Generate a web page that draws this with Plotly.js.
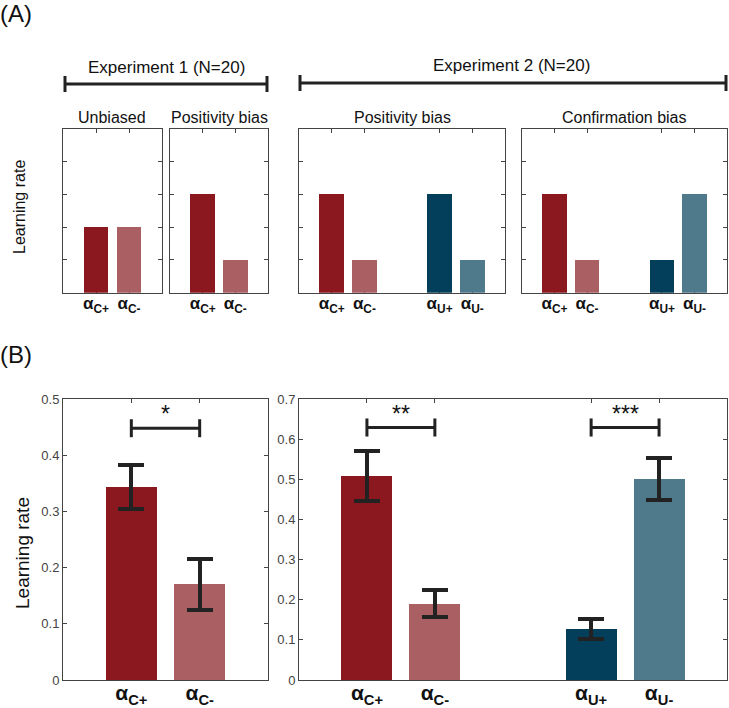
<!DOCTYPE html>
<html>
<head>
<meta charset="utf-8">
<script src="https://cdn.plot.ly/plotly-3.0.1.min.js"></script>
<style>
html,body{margin:0;padding:0;background:#fff;}
#chart{width:729px;height:708px;}
</style>
</head>
<body>
<div id="chart"></div>
<script>
// ---------- DATA ----------
const labelsExp1 = ['<b>α<sub>C+</sub></b>', '<b>α<sub>C-</sub></b>'];
const labelsExp2 = ['<b>α<sub>C+</sub></b>', '<b>α<sub>C-</sub></b>', '<b>α<sub>U+</sub></b>', '<b>α<sub>U-</sub></b>'];
const posExp1 = [1, 2];
const posExp2 = [1, 2, 4.3, 5.3];

// Panel A: schematic hypotheses (arbitrary units)
const schemUnbiased = [2, 2];
const schemPositivity1 = [3, 1];
const schemPositivity2 = [3, 1, 3, 1];
const schemConfirmation = [3, 1, 1, 3];

// Panel B: fitted learning rates (mean, s.e.m.)
const exp1Mean = [0.343, 0.170];
const exp1Sem = [0.039, 0.045];
const exp2Mean = [0.509, 0.190, 0.126, 0.501];
const exp2Sem = [0.062, 0.033, 0.025, 0.053];

// Significance brackets
const sigExp1Pairs = [[1, 2]];
const sigExp1Levels = [0.448];
const sigExp1Labels = ['*'];
const sigExp2Pairs = [[1, 2], [4.3, 5.3]];
const sigExp2Levels = [0.629, 0.629];
const sigExp2Labels = ['**', '***'];

// ---------- STYLE ----------
const colors1 = ['#8a181e', '#aa5f63'];
const colors2 = ['#8a181e', '#aa5f63', '#033f5a', '#4e7a8c'];
const W = 729, H = 708;
const FONT = 'Liberation Sans, Arial, Helvetica, sans-serif';
const px = v => v / W;
const py = v => 1 - v / H;

function barTrace(xa, ya, x, y, colors, err) {
  const t = {
    type: 'bar', x: x, y: y, width: 0.75,
    marker: {color: colors, line: {width: 0}},
    xaxis: xa, yaxis: ya, showlegend: false, hoverinfo: 'skip'
  };
  if (err) {
    t.error_y = {type: 'data', array: err, visible: true, color: '#222222', thickness: 4, width: 13};
  }
  return t;
}

function bracketTrace(xa, ya, pairs, levels, h) {
  const xs = [], ys = [];
  pairs.forEach((p, i) => {
    const yv = levels[i];
    xs.push(p[0], p[0], null, p[0], p[1], null, p[1], p[1], null);
    ys.push(yv - h, yv + h, null, yv, yv, null, yv - h, yv + h, null);
  });
  return {type: 'scatter', mode: 'lines', x: xs, y: ys, xaxis: xa, yaxis: ya,
    line: {color: '#222222', width: 3}, showlegend: false, hoverinfo: 'skip', cliponaxis: false};
}

const data = [
  barTrace('x', 'y', posExp1, schemUnbiased, colors1),
  barTrace('x2', 'y2', posExp1, schemPositivity1, colors1),
  barTrace('x3', 'y3', posExp2, schemPositivity2, colors2),
  barTrace('x4', 'y4', posExp2, schemConfirmation, colors2),
  barTrace('x5', 'y5', posExp1, exp1Mean, colors1, exp1Sem),
  barTrace('x6', 'y6', posExp2, exp2Mean, colors2, exp2Sem),
  bracketTrace('x5', 'y5', sigExp1Pairs, sigExp1Levels, 0.016),
  bracketTrace('x6', 'y6', sigExp2Pairs, sigExp2Levels, 0.0225)
];

function xAxis(dom, range, vals, text, anchor, size, standoff) {
  return {
    domain: [px(dom[0]), px(dom[1])], range: range, anchor: anchor,
    tickmode: 'array', tickvals: vals, ticktext: text,
    ticks: 'inside', ticklen: 4, tickcolor: '#444', tickwidth: 1,
    showline: true, linecolor: '#444', linewidth: 1, mirror: 'ticks',
    showgrid: false, zeroline: false, layer: 'below traces', fixedrange: true,
    ticklabelstandoff: standoff,
    tickfont: {family: FONT, size: size, color: '#111'}
  };
}
function yAxis(dom, range, anchor, labels, dtick) {
  return {
    domain: [py(dom[1]), py(dom[0])], range: range, anchor: anchor,
    tickmode: 'linear', tick0: 0, dtick: dtick,
    ticks: 'inside', ticklen: 4, tickcolor: '#444', tickwidth: 1,
    showline: true, linecolor: '#444', linewidth: 1, mirror: 'ticks',
    showgrid: false, zeroline: false, layer: 'below traces', fixedrange: true,
    showticklabels: labels,
    tickfont: {family: FONT, size: 13, color: '#444'}
  };
}

const aTop = 128.5, aBot = 292.7, bTop = 399, bBot = 680;
const layout = {
  width: W, height: H,
  margin: {l: 0, r: 0, t: 0, b: 0},
  paper_bgcolor: '#fff', plot_bgcolor: '#fff',
  font: {family: FONT, color: '#111'},
  bargap: 0,
  xaxis: xAxis([63, 162], [0, 3], posExp1, labelsExp1, 'y', 17, -5),
  yaxis: yAxis([aTop, aBot], [0, 5], 'x', false, 1),
  xaxis2: xAxis([170, 268], [0, 3], posExp1, labelsExp1, 'y2', 17, -5),
  yaxis2: yAxis([aTop, aBot], [0, 5], 'x2', false, 1),
  xaxis3: xAxis([299, 505], [0, 6.3], posExp2, labelsExp2, 'y3', 17, -5),
  yaxis3: yAxis([aTop, aBot], [0, 5], 'x3', false, 1),
  xaxis4: xAxis([522, 727], [0, 6.3], posExp2, labelsExp2, 'y4', 17, -5),
  yaxis4: yAxis([aTop, aBot], [0, 5], 'x4', false, 1),
  xaxis5: xAxis([63, 268], [0, 3], posExp1, labelsExp1, 'y5', 21, -6),
  yaxis5: yAxis([bTop, bBot], [0, 0.5], 'x5', true, 0.1),
  xaxis6: xAxis([299, 727], [0, 6.3], posExp2, labelsExp2, 'y6', 21, -6),
  yaxis6: yAxis([bTop, bBot], [0, 0.7], 'x6', true, 0.1),
  shapes: [],
  annotations: []
};

// experiment brackets (panel A)
function expBracket(x0, x1, y) {
  layout.shapes.push({type: 'line', xref: 'paper', yref: 'paper', x0: px(x0), x1: px(x1), y0: py(y), y1: py(y), line: {color: '#222', width: 3}});
  layout.shapes.push({type: 'line', xref: 'paper', yref: 'paper', x0: px(x0), x1: px(x0), y0: py(y - 8), y1: py(y + 8), line: {color: '#222', width: 3}});
  layout.shapes.push({type: 'line', xref: 'paper', yref: 'paper', x0: px(x1), x1: px(x1), y0: py(y - 8), y1: py(y + 8), line: {color: '#222', width: 3}});
}
expBracket(65, 267, 84);
expBracket(300, 726, 83);

function textAt(x, y, text, size, extra) {
  layout.annotations.push(Object.assign({
    xref: 'paper', yref: 'paper', x: px(x), y: py(y), text: text, showarrow: false,
    xanchor: 'center', yanchor: 'middle', font: {family: FONT, size: size, color: '#111'}
  }, extra || {}));
}
textAt(16, 13, '(A)', 24);
textAt(16, 354, '(B)', 24);
textAt(166, 67, 'Experiment 1 (N=20)', 17);
textAt(512, 66, 'Experiment 2 (N=20)', 17);
textAt(112, 117, 'Unbiased', 16);
textAt(219, 117, 'Positivity bias', 16);
textAt(402, 117, 'Positivity bias', 16);
textAt(624, 117, 'Confirmation bias', 16);
textAt(19, 207, 'Learning rate', 16, {textangle: -90});
textAt(22, 553, 'Learning rate', 19, {textangle: -90});

// significance stars
sigExp1Pairs.forEach((p, i) => {
  layout.annotations.push({xref: 'x5', yref: 'y5', x: (p[0] + p[1]) / 2, y: sigExp1Levels[i], yshift: 14,
    text: sigExp1Labels[i], showarrow: false, xanchor: 'center', yanchor: 'middle',
    font: {family: FONT, size: 23, color: '#111'}});
});
sigExp2Pairs.forEach((p, i) => {
  layout.annotations.push({xref: 'x6', yref: 'y6', x: (p[0] + p[1]) / 2, y: sigExp2Levels[i], yshift: 14,
    text: sigExp2Labels[i], showarrow: false, xanchor: 'center', yanchor: 'middle',
    font: {family: FONT, size: 23, color: '#111'}});
});

Plotly.newPlot('chart', data, layout, {displayModeBar: false, staticPlot: true});
</script>
</body>
</html>
